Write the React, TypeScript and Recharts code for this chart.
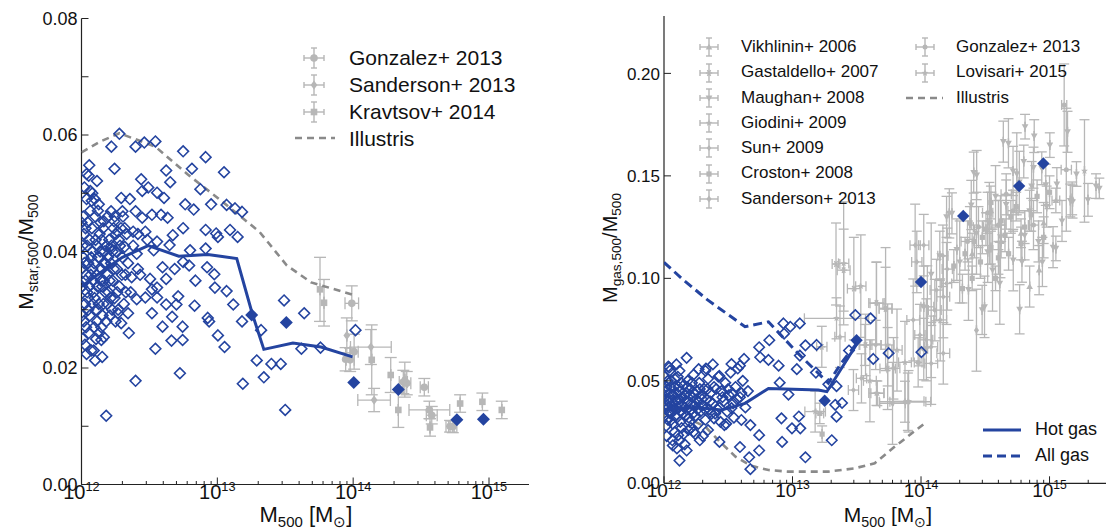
import React from 'react';
import { ScatterChart, Scatter, XAxis, YAxis, ErrorBar } from 'recharts';

const BLUE = '#2444a0';
const GREY = '#b7b7b7';
const DASH = '#8a8a8a';
const FONT = '"Liberation Sans", Arial, Helvetica, sans-serif';

// masses are in units of 1e12 Msun

// ---------- left panel: stellar fraction ----------
const starHalos: [number, number][] = [
  [1.9, 0.0602], [1.66, 0.058], [2.5, 0.058], [2.9, 0.0587], [3.5, 0.0589], [5.6, 0.0572], [8.2, 0.0562],
  [6.5, 0.0542], [11.2, 0.0536], [1.75, 0.0542], [1.14, 0.0548], [1.09, 0.0533], [1.16, 0.0504], [1.3, 0.0521],
  [1.19, 0.0487], [2.75, 0.0524], [4.2, 0.0539], [4.5, 0.0519], [3.1, 0.051], [2.8, 0.0504], [3.6, 0.0501],
  [4.05, 0.0492], [7.5, 0.0507], [1.96, 0.0492], [2.27, 0.049], [5.8, 0.0481], [6.7, 0.0472], [9.0, 0.0481],
  [11.7, 0.048], [13.5, 0.0474], [15.2, 0.0468], [1.65, 0.0469], [2.0, 0.0469], [2.5, 0.0469], [3.3, 0.0463],
  [3.85, 0.0463], [4.3, 0.0458], [2.8, 0.0458], [1.34, 0.0481], [1.46, 0.0452], [1.74, 0.0452], [1.85, 0.0434],
  [2.08, 0.044], [2.4, 0.0434], [2.95, 0.0434], [4.7, 0.0428], [5.6, 0.044], [8.2, 0.0437], [9.8, 0.0431],
  [10.1, 0.0425], [12.4, 0.0437], [14.1, 0.0425], [6.3, 0.0402], [8.2, 0.0405], [4.45, 0.0411], [3.6, 0.0417],
  [3.05, 0.042], [3.4, 0.0402], [2.55, 0.0396], [2.08, 0.0408], [1.65, 0.0405], [3.95, 0.0373], [4.85, 0.037],
  [4.2, 0.0353], [5.6, 0.0382], [6.2, 0.0376], [6.9, 0.035], [8.4, 0.0373], [9.5, 0.0361], [9.6, 0.0338],
  [11.7, 0.0332], [13.1, 0.0309], [3.2, 0.0353], [2.6, 0.037], [2.34, 0.0356], [3.3, 0.0335], [3.6, 0.0338],
  [2.95, 0.0321], [2.55, 0.0318], [3.6, 0.0321], [5.15, 0.0323], [5.0, 0.0309], [4.2, 0.0309], [6.8, 0.0307],
  [3.3, 0.0294], [4.65, 0.0288], [8.5, 0.0286], [8.7, 0.028], [15.2, 0.028], [3.95, 0.0271], [5.55, 0.0271],
  [10.1, 0.0256], [11.3, 0.0236], [3.5, 0.0233], [4.6, 0.0247], [5.55, 0.0248], [2.23, 0.026], [1.96, 0.0277],
  [1.85, 0.0294], [2.2, 0.0294], [1.46, 0.0253], [1.42, 0.0219], [1.26, 0.0213], [1.09, 0.0224], [1.23, 0.023],
  [1.4, 0.0248], [5.3, 0.0191], [2.5, 0.0178], [1.52, 0.0118], [15.4, 0.0173], [19.5, 0.0213], [22, 0.0184],
  [25, 0.0207], [29.3, 0.0207], [31.6, 0.0128], [41.6, 0.0233], [57.5, 0.0235], [43.6, 0.0294], [31, 0.0316],
  [104, 0.0265], [21, 0.0265],
  [1.02, 0.041], [1.05, 0.038], [1.08, 0.036], [1.1, 0.033], [1.12, 0.03], [1.04, 0.028], [1.07, 0.044],
  [1.15, 0.042], [1.18, 0.039], [1.2, 0.037], [1.22, 0.035], [1.25, 0.032], [1.28, 0.03], [1.3, 0.041],
  [1.33, 0.039], [1.36, 0.043], [1.4, 0.037], [1.42, 0.034], [1.45, 0.031], [1.48, 0.04], [1.5, 0.038],
  [1.52, 0.028], [1.55, 0.036], [1.58, 0.033], [1.6, 0.042], [1.62, 0.029], [1.65, 0.038], [1.7, 0.035],
  [1.72, 0.044], [1.75, 0.032], [1.8, 0.04], [1.82, 0.037], [1.88, 0.042], [1.9, 0.034], [1.95, 0.044],
  [2.0, 0.039], [2.05, 0.031], [2.1, 0.036], [2.15, 0.043], [2.2, 0.038], [1.13, 0.026], [1.24, 0.027],
  [1.35, 0.026], [1.06, 0.024], [1.16, 0.047], [1.26, 0.046], [1.38, 0.045], [1.03, 0.046], [1.09, 0.049],
  [1.2, 0.05], [1.32, 0.047], [1.44, 0.044], [1.56, 0.046], [1.68, 0.03], [1.78, 0.028], [1.86, 0.03],
  [1.01, 0.034], [1.11, 0.032], [1.21, 0.031], [1.31, 0.034], [1.46, 0.035], [1.66, 0.041], [1.76, 0.046],
  [2.3, 0.033], [2.4, 0.041], [2.6, 0.043], [2.7, 0.036],
  [1.0, 0.037], [1.01, 0.029], [1.02, 0.025], [1.03, 0.039], [1.04, 0.043], [1.06, 0.031], [1.07, 0.035],
  [1.08, 0.027], [1.1, 0.041], [1.11, 0.045], [1.12, 0.038], [1.14, 0.034], [1.15, 0.029], [1.17, 0.036],
  [1.19, 0.044], [1.21, 0.04], [1.23, 0.033], [1.24, 0.038], [1.27, 0.042], [1.29, 0.036], [1.3, 0.028],
  [1.34, 0.031], [1.37, 0.04], [1.39, 0.035], [1.41, 0.042], [1.43, 0.029], [1.47, 0.038], [1.49, 0.033],
  [1.53, 0.041], [1.57, 0.039], [1.61, 0.035], [1.64, 0.032], [1.69, 0.04], [1.73, 0.037], [1.79, 0.043],
  [1.83, 0.033], [1.92, 0.041], [1.98, 0.036], [2.02, 0.046], [2.12, 0.033], [1.05, 0.051], [1.13, 0.053],
  [1.25, 0.049], [1.0, 0.045], [1.18, 0.023], [1.28, 0.025], [1.4, 0.027], [1.55, 0.031],
];
const starZooms: [number, number][] = [
  [17.9, 0.0291], [32.2, 0.0278], [101, 0.0175], [215, 0.0163], [580, 0.0111], [910, 0.0112],
];
const starMedian: [number, number][] = [
  [1.0, 0.034], [1.5, 0.037], [2.0, 0.039], [3.1, 0.041], [5.2, 0.0392], [8.5, 0.0395], [13.9, 0.0388],
  [18.2, 0.0291], [22, 0.0232], [36, 0.0243], [58, 0.0236], [99, 0.0219],
];
const starIllustris: [number, number][] = [
  [1.0, 0.057], [1.38, 0.0589], [1.9, 0.0603], [3.5, 0.058], [6.0, 0.0533], [10.7, 0.0487], [20.4, 0.0434],
  [32.5, 0.0376], [49, 0.0347], [99, 0.0326],
];
// [mass, fraction, y error, x error in dex]
const starGonzalez: [number, number, number, number][] = [
  [95, 0.0214, 0.002, 0.03], [101.6, 0.0228, 0.003, 0.03], [97.7, 0.0311, 0.003, 0.05], [234, 0.0176, 0.002, 0.03],
  [248, 0.0174, 0.002, 0.03], [334, 0.0167, 0.0015, 0.03], [364, 0.0128, 0.0015, 0.15], [379, 0.0119, 0.0015, 0.04],
  [541, 0.0099, 0.001, 0.03], [517, 0.01, 0.001, 0.03], [88, 0.0215, 0.002, 0],
];
const starSanderson: [number, number, number, number][] = [
  [89.8, 0.0256, 0.003, 0], [135, 0.0236, 0.003, 0.15], [142.6, 0.0145, 0.002, 0.12], [240, 0.018, 0.003, 0],
];
const starKravtsov: [number, number, number, number][] = [
  [57, 0.0335, 0.0055, 0], [61, 0.0312, 0.004, 0], [137, 0.0214, 0.006, 0], [189, 0.0188, 0.003, 0],
  [215, 0.0128, 0.003, 0], [368, 0.0098, 0.0015, 0], [613, 0.0139, 0.0015, 0], [894, 0.0142, 0.0015, 0],
  [1242, 0.0128, 0.0015, 0],
];

// ---------- right panel: gas fraction ----------
const gasHalos: [number, number][] = [
  [1.5, 0.0612], [1.1, 0.0565], [1.32, 0.0549], [1.86, 0.0557], [2.1, 0.0549], [3.35, 0.0582], [3.9, 0.0574],
  [4.2, 0.0607], [2.7, 0.0524], [5.5, 0.0664], [6.6, 0.0698], [5.6, 0.0615], [6.5, 0.0602], [7.8, 0.0574],
  [7.95, 0.0491], [9.3, 0.0433], [8.5, 0.078], [9.6, 0.0764], [11.4, 0.078], [8.6, 0.073], [12.6, 0.0673],
  [11.4, 0.0623], [10.8, 0.0557], [15.2, 0.054], [19, 0.0483], [21.5, 0.0383], [24.3, 0.0392], [20.2, 0.021],
  [12.6, 0.0127], [8.2, 0.0317], [9.9, 0.0268], [11.5, 0.0268], [11.2, 0.0326], [8.3, 0.0202], [5.5, 0.0235],
  [5.5, 0.016], [4.7, 0.0069], [4.6, 0.0127], [3.9, 0.0177], [4.7, 0.0284], [4.0, 0.0309], [3.35, 0.0367],
  [2.95, 0.0284], [2.45, 0.0317], [1.9, 0.021], [2.7, 0.0202], [1.5, 0.016], [1.32, 0.0111], [1.17, 0.0185],
  [1.29, 0.0235], [1.7, 0.0251], [2.2, 0.026], [30.8, 0.0821], [40.5, 0.0805], [42.5, 0.0607], [56, 0.0635],
  [100.7, 0.064], [27.5, 0.0648], [22, 0.0474], [22, 0.0325], [15.4, 0.0675],
  [1.02, 0.042], [1.04, 0.036], [1.05, 0.047], [1.07, 0.031], [1.08, 0.04], [1.1, 0.044], [1.12, 0.034],
  [1.13, 0.05], [1.15, 0.038], [1.17, 0.029], [1.18, 0.043], [1.2, 0.047], [1.22, 0.036], [1.24, 0.041],
  [1.26, 0.032], [1.28, 0.052], [1.3, 0.039], [1.33, 0.045], [1.35, 0.035], [1.37, 0.027], [1.4, 0.042],
  [1.43, 0.048], [1.45, 0.037], [1.48, 0.033], [1.5, 0.044], [1.53, 0.05], [1.55, 0.04], [1.58, 0.03],
  [1.6, 0.046], [1.63, 0.036], [1.66, 0.042], [1.7, 0.053], [1.73, 0.038], [1.76, 0.033], [1.8, 0.045],
  [1.84, 0.04], [1.88, 0.049], [1.92, 0.035], [1.96, 0.043], [2.0, 0.038], [2.05, 0.046], [2.1, 0.031],
  [2.15, 0.041], [2.2, 0.051], [2.25, 0.036], [2.3, 0.044], [2.38, 0.039], [2.45, 0.047], [2.5, 0.034],
  [2.58, 0.042], [2.65, 0.052], [2.72, 0.037], [2.8, 0.045], [2.9, 0.04], [3.0, 0.049], [3.1, 0.035],
  [3.2, 0.043], [3.3, 0.054], [3.45, 0.039], [3.6, 0.047], [3.75, 0.056], [3.9, 0.042], [4.1, 0.05],
  [4.3, 0.037], [4.5, 0.045], [1.01, 0.052], [1.11, 0.055], [1.21, 0.025], [1.32, 0.021], [1.42, 0.024],
  [1.62, 0.027], [1.85, 0.029], [2.12, 0.056], [2.4, 0.058], [2.75, 0.03], [3.05, 0.029], [3.5, 0.032],
  [1.0, 0.04], [1.01, 0.033], [1.03, 0.045], [1.04, 0.028], [1.06, 0.038], [1.07, 0.05], [1.09, 0.035],
  [1.1, 0.041], [1.12, 0.047], [1.14, 0.031], [1.15, 0.043], [1.17, 0.036], [1.19, 0.039], [1.21, 0.051],
  [1.23, 0.033], [1.25, 0.044], [1.27, 0.037], [1.3, 0.047], [1.32, 0.041], [1.34, 0.03], [1.36, 0.049],
  [1.39, 0.038], [1.41, 0.034], [1.44, 0.043], [1.47, 0.04], [1.5, 0.036], [1.52, 0.047], [1.56, 0.032],
  [1.59, 0.043], [1.62, 0.039], [1.65, 0.049], [1.68, 0.034], [1.72, 0.044], [1.78, 0.041], [1.82, 0.036],
  [1.9, 0.046], [1.98, 0.041], [2.08, 0.036], [2.18, 0.046], [2.28, 0.04], [2.35, 0.034], [2.55, 0.046],
  [2.62, 0.036], [2.85, 0.042], [3.15, 0.046], [3.4, 0.044], [3.7, 0.041], [4.0, 0.044], [1.05, 0.023],
  [1.16, 0.021], [1.26, 0.017], [1.45, 0.019], [1.55, 0.026], [1.75, 0.024], [2.0, 0.023], [1.08, 0.057],
  [1.25, 0.058],
];
const gasZooms: [number, number][] = [
  [17.8, 0.0403], [31.5, 0.0698], [100, 0.0982], [213, 0.1304], [580, 0.145], [895, 0.156],
];
const hotGas: [number, number][] = [
  [1.0, 0.036], [1.8, 0.037], [2.8, 0.0358], [4.27, 0.039], [6.5, 0.0463], [15.9, 0.0455], [18.5, 0.0447],
  [33, 0.0698],
];
const allGas: [number, number][] = [
  [1.0, 0.1078], [1.4, 0.0995], [2.17, 0.0896], [4.27, 0.0764], [6.5, 0.0788], [11, 0.0635], [15.8, 0.0538],
  [19, 0.0489], [24, 0.0587], [33, 0.0698],
];
const gasIllustris: [number, number][] = [
  [1.75, 0.03], [2.1, 0.0276], [2.65, 0.021], [3.6, 0.013], [4.8, 0.0085], [6.5, 0.0065], [9.2, 0.0057],
  [18.9, 0.0057], [30, 0.0072], [43.6, 0.0098], [62.5, 0.0179], [107, 0.0293],
];
const gasVikhlinin: [number, number, number, number][] = [
  [1120, 0.138, 0.006, 0.03], [830, 0.104, 0.012, 0], [700, 0.096, 0.01, 0], [420, 0.118, 0.008, 0],
  [600, 0.122, 0.007, 0], [350, 0.133, 0.009, 0], [900, 0.127, 0.01, 0], [1500, 0.139, 0.008, 0],
  [250, 0.112, 0.01, 0],
];
const gasGastaldello: [number, number, number, number][] = [
  [25, 0.104, 0.02, 0.05], [30, 0.095, 0.025, 0.05], [45, 0.088, 0.02, 0.06], [53, 0.085, 0.03, 0.05],
  [37, 0.0675, 0.015, 0.05], [16.9, 0.0666, 0.01, 0.04], [21.8, 0.107, 0.02, 0.03], [55, 0.056, 0.02, 0.06],
];
const gasMaughan: [number, number, number, number][] = [
  [645, 0.174, 0.006, 0], [760, 0.1694, 0.008, 0], [437, 0.1667, 0.01, 0], [479, 0.1659, 0.012, 0],
  [1380, 0.1715, 0.01, 0], [1005, 0.165, 0.006, 0], [630, 0.157, 0.008, 0], [750, 0.154, 0.01, 0],
  [870, 0.1537, 0.008, 0], [271, 0.1504, 0.012, 0], [1620, 0.1509, 0.006, 0], [2440, 0.1439, 0.005, 0],
  [1140, 0.146, 0.008, 0], [935, 0.1456, 0.01, 0], [725, 0.145, 0.012, 0], [556, 0.151, 0.02, 0],
  [582, 0.147, 0.015, 0], [1510, 0.1374, 0.008, 0], [174, 0.1317, 0.01, 0], [246, 0.1358, 0.012, 0],
  [340, 0.1268, 0.02, 0], [415, 0.1203, 0.02, 0], [522, 0.1089, 0.015, 0], [610, 0.1081, 0.01, 0],
  [1120, 0.1146, 0.006, 0], [410, 0.0976, 0.02, 0], [312, 0.0861, 0.015, 0], [585, 0.0849, 0.012, 0],
  [200, 0.108, 0.02, 0], [158, 0.13, 0.01, 0], [299, 0.0846, 0.012, 0], [234, 0.0945, 0.015, 0],
  [166, 0.1317, 0.012, 0], [257, 0.1516, 0.01, 0], [520, 0.1524, 0.012, 0], [2300, 0.145, 0.006, 0],
  [1065, 0.1152, 0.01, 0], [1990, 0.1383, 0.008, 0], [1450, 0.138, 0.008, 0], [380, 0.14, 0.015, 0],
  [460, 0.136, 0.012, 0], [330, 0.113, 0.015, 0], [700, 0.133, 0.01, 0], [820, 0.118, 0.01, 0],
  [950, 0.135, 0.01, 0], [270, 0.122, 0.02, 0], [190, 0.114, 0.015, 0], [360, 0.104, 0.02, 0],
  [640, 0.121, 0.012, 0], [880, 0.108, 0.012, 0], [140, 0.111, 0.012, 0], [1250, 0.128, 0.01, 0],
  [105, 0.086, 0.02, 0], [120, 0.102, 0.025, 0],
];
const gasGiodini: [number, number, number, number][] = [
  [22, 0.0805, 0.01, 0.25], [45.7, 0.0439, 0.006, 0.05], [79, 0.0398, 0.014, 0.14], [15, 0.035, 0.01, 0.08],
];
const gasSun: [number, number, number, number][] = [
  [23.4, 0.0715, 0.015, 0.04], [44.4, 0.0675, 0.012, 0.04], [36.6, 0.0675, 0.01, 0.04], [34.4, 0.0512, 0.012, 0.04],
  [29.8, 0.0455, 0.01, 0.04], [87, 0.0797, 0.02, 0.05], [90, 0.1162, 0.02, 0.04], [92.7, 0.108, 0.015, 0.04],
  [105, 0.1162, 0.015, 0.04], [98, 0.0723, 0.015, 0.04], [110, 0.07, 0.02, 0.05], [112, 0.0861, 0.02, 0.05],
  [128, 0.0845, 0.015, 0.05], [132, 0.0943, 0.015, 0.05], [149, 0.091, 0.02, 0.05], [158, 0.0975, 0.02, 0.04],
  [141, 0.0797, 0.02, 0.05], [120, 0.0666, 0.015, 0.05], [149, 0.0634, 0.015, 0.05], [120, 0.0585, 0.02, 0.05],
  [160, 0.1045, 0.02, 0.04], [148, 0.111, 0.015, 0.04],
];
const gasCroston: [number, number, number, number][] = [
  [16.3, 0.0341, 0.005, 0.03], [17, 0.024, 0.004, 0], [300, 0.12, 0.008, 0], [350, 0.115, 0.008, 0],
  [420, 0.128, 0.01, 0], [250, 0.1, 0.006, 0], [550, 0.135, 0.007, 0], [480, 0.112, 0.008, 0],
  [210, 0.095, 0.007, 0], [380, 0.1, 0.006, 0], [640, 0.125, 0.008, 0], [180, 0.106, 0.008, 0],
  [220, 0.112, 0.008, 0], [260, 0.118, 0.008, 0], [320, 0.124, 0.008, 0], [290, 0.108, 0.008, 0],
  [450, 0.121, 0.008, 0], [500, 0.13, 0.008, 0], [600, 0.117, 0.008, 0], [720, 0.131, 0.008, 0],
  [350, 0.137, 0.008, 0], [240, 0.127, 0.008, 0], [400, 0.11, 0.008, 0], [800, 0.14, 0.008, 0],
  [900, 0.12, 0.01, 0], [1000, 0.142, 0.008, 0],
];
const gasSanderson: [number, number, number, number][] = [
  [53, 0.0854, 0.02, 0.05], [61, 0.0561, 0.015, 0.05], [60, 0.039, 0.02, 0.1], [270, 0.0747, 0.02, 0],
  [45, 0.0878, 0.02, 0.05], [75, 0.0398, 0.01, 0.2],
];
const gasGonzalez: [number, number, number, number][] = [
  [105, 0.0655, 0.015, 0.03], [95, 0.059, 0.012, 0.03], [230, 0.118, 0.01, 0.05], [280, 0.125, 0.01, 0.04],
  [330, 0.132, 0.01, 0.04], [400, 0.126, 0.012, 0.05], [460, 0.141, 0.01, 0.04], [520, 0.133, 0.01, 0.04],
  [750, 0.126, 0.012, 0.04], [1350, 0.153, 0.03, 0.04], [1300, 0.1846, 0.02, 0.02],
];
const gasLovisari: [number, number, number, number][] = [
  [45, 0.044, 0.006, 0.06], [80, 0.04, 0.015, 0.12], [25, 0.1073, 0.03, 0.04], [34, 0.0962, 0.025, 0.04],
  [55, 0.0675, 0.02, 0.05], [40, 0.05, 0.02, 0.05], [1870, 0.1524, 0.025, 0], [65, 0.065, 0.02, 0.04],
  [75, 0.059, 0.02, 0.05],
];

const massTicksLeft = [1, 2, 3, 4, 5, 6, 7, 8, 9, 10, 20, 30, 40, 50, 60, 70, 80, 90, 100, 200, 300, 400, 500, 600, 700, 800, 900, 1000];
const massTicksRight = [...massTicksLeft, 2000];
const starTicks = [0, 0.01, 0.02, 0.03, 0.04, 0.05, 0.06, 0.07, 0.08];
const gasTicks = [0, 0.05, 0.1, 0.15, 0.2];

const pts = (a: [number, number][]) => a.map(([m, f]) => ({ m, f }));
const obs = (a: [number, number, number, number][]) =>
  a.map(([m, f, ey, xd]) => ({ m, f, ey, ex: [m - m / 10 ** xd, m * 10 ** xd - m] }));

function Mark({ kind, cx, cy, s, color }: any) {
  switch (kind) {
    case 'circle':
      return <circle cx={cx} cy={cy} r={s} fill={color} />;
    case 'square':
      return <rect x={cx - s} y={cy - s} width={2 * s} height={2 * s} fill={color} />;
    case 'diamond':
      return <polygon points={`${cx},${cy - s * 1.35} ${cx + s},${cy} ${cx},${cy + s * 1.35} ${cx - s},${cy}`} fill={color} />;
    case 'up':
      return <polygon points={`${cx},${cy - s} ${cx + s},${cy + s * 0.75} ${cx - s},${cy + s * 0.75}`} fill={color} />;
    case 'down':
      return <polygon points={`${cx},${cy + s} ${cx + s},${cy - s * 0.75} ${cx - s},${cy - s * 0.75}`} fill={color} />;
    case 'star': {
      const p: string[] = [];
      for (let i = 0; i < 10; i++) {
        const r = i % 2 === 0 ? s * 1.3 : s * 0.55;
        const a = -Math.PI / 2 + (i * Math.PI) / 5;
        p.push(`${cx + r * Math.cos(a)},${cy + r * Math.sin(a)}`);
      }
      return <polygon points={p.join(' ')} fill={color} />;
    }
    case 'ast':
      return (
        <g stroke={color} strokeWidth={1.4}>
          <line x1={cx - s} x2={cx + s} y1={cy} y2={cy} />
          <line x1={cx - s * 0.5} x2={cx + s * 0.5} y1={cy - s * 0.87} y2={cy + s * 0.87} />
          <line x1={cx - s * 0.5} x2={cx + s * 0.5} y1={cy + s * 0.87} y2={cy - s * 0.87} />
        </g>
      );
    case 'open':
      return (
        <polygon
          points={`${cx},${cy - s} ${cx + s},${cy} ${cx},${cy + s} ${cx - s},${cy}`}
          fill="none"
          stroke={color}
          strokeWidth={1.6}
        />
      );
    case 'filled':
      return <polygon points={`${cx},${cy - s} ${cx + s},${cy} ${cx},${cy + s} ${cx - s},${cy}`} fill={color} />;
    default:
      return <g />;
  }
}

const shapeOf = (kind: string, s: number, color: string) => (p: any) => (
  <Mark kind={kind} cx={p.cx} cy={p.cy} s={s} color={color} />
);
const noShape = () => <g />;

function XTick({ x, y, payload, top, fs }: any) {
  const lg = Math.log10(payload.value);
  const major = Math.abs(lg - Math.round(lg)) < 1e-6;
  const len = major ? 7 : 3.5;
  const d = top ? 1 : -1;
  return (
    <g>
      <line x1={x} x2={x} y1={y} y2={y + d * len} stroke="#222" strokeWidth={1} />
      {!top && major && (
        <text x={x} y={y + fs * 0.72} textAnchor="middle" fontSize={fs} fontFamily={FONT} fill="#111">
          10
          <tspan dy={-fs * 0.42} fontSize={fs * 0.64}>
            {12 + Math.round(lg)}
          </tspan>
        </text>
      )}
    </g>
  );
}

function YTick({ x, y, payload, right, fs, show }: any) {
  const v = payload.value;
  const d = right ? -1 : 1;
  return (
    <g>
      <line x1={x} x2={x + d * 7} y1={y} y2={y} stroke="#222" strokeWidth={1} />
      {!right && show(v) && (
        <text x={x - 4} y={y} dy="0.36em" textAnchor="end" fontSize={fs} fontFamily={FONT} fill="#111">
          {v.toFixed(2)}
        </text>
      )}
    </g>
  );
}

function Sub({ children }: any) {
  return <span style={{ fontSize: '0.68em', position: 'relative', top: '0.32em' }}>{children}</span>;
}

function ErrMark({ x, y, kind, s, w }: any) {
  return (
    <svg style={{ position: 'absolute', left: x - 14, top: y - 14 }} width={28} height={28}>
      <g stroke={GREY} strokeWidth={1.4}>
        <line x1={14 - w} x2={14 + w} y1={14} y2={14} />
        <line x1={14} x2={14} y1={14 - w} y2={14 + w} />
        <line x1={14 - 3} x2={14 + 3} y1={14 - w} y2={14 - w} />
        <line x1={14 - 3} x2={14 + 3} y1={14 + w} y2={14 + w} />
        <line x1={14 - w} x2={14 - w} y1={11} y2={17} />
        <line x1={14 + w} x2={14 + w} y1={11} y2={17} />
      </g>
      <Mark kind={kind} cx={14} cy={14} s={s} color={GREY} />
    </svg>
  );
}

function LineMark({ x1, x2, y, color, dash, w }: any) {
  return (
    <svg style={{ position: 'absolute', left: x1, top: y - 4 }} width={x2 - x1} height={8}>
      <line x1={0} x2={x2 - x1} y1={4} y2={4} stroke={color} strokeWidth={w} strokeDasharray={dash} />
    </svg>
  );
}

function Label({ x, y, fs, children }: any) {
  return (
    <div style={{ position: 'absolute', left: x, top: y - fs * 0.6, fontSize: fs, lineHeight: `${fs * 1.2}px`, whiteSpace: 'nowrap' }}>
      {children}
    </div>
  );
}

function axes(domainX: number[], ticksX: number[], domainY: number[], ticksY: number[], fs: number, xfs: number, show: any, yw: number, xh: number) {
  return [
    <XAxis
      key="xb"
      dataKey="m"
      type="number"
      scale="log"
      domain={domainX}
      allowDataOverflow
      ticks={ticksX}
      interval={0}
      height={xh}
      tickSize={0}
      tickMargin={0}
      tickLine={false}
      axisLine={{ stroke: '#222', strokeWidth: 1.2 }}
      tick={(p: any) => <XTick {...p} fs={xfs} />}
    />,
    <XAxis
      key="xt"
      xAxisId="top"
      orientation="top"
      dataKey="m"
      type="number"
      scale="log"
      domain={domainX}
      allowDataOverflow
      ticks={ticksX}
      interval={0}
      height={0}
      tickSize={0}
      tickMargin={0}
      tickLine={false}
      axisLine={{ stroke: '#222', strokeWidth: 1.2 }}
      tick={(p: any) => <XTick {...p} top fs={xfs} />}
    />,
    <YAxis
      key="yl"
      dataKey="f"
      type="number"
      domain={domainY}
      allowDataOverflow
      ticks={ticksY}
      interval={0}
      width={yw}
      tickSize={0}
      tickMargin={0}
      tickLine={false}
      axisLine={{ stroke: '#222', strokeWidth: 1.2 }}
      tick={(p: any) => <YTick {...p} fs={fs} show={show} />}
    />,
    <YAxis
      key="yr"
      yAxisId="right"
      orientation="right"
      dataKey="f"
      type="number"
      domain={domainY}
      allowDataOverflow
      ticks={ticksY}
      interval={0}
      width={0}
      tickSize={0}
      tickMargin={0}
      tickLine={false}
      axisLine={{ stroke: '#222', strokeWidth: 1.2 }}
      tick={(p: any) => <YTick {...p} right fs={fs} show={show} />}
    />,
  ];
}

function obsSeries(name: string, data: any[], kind: string, s: number, cap: number) {
  return (
    <Scatter key={name} name={name} data={data} shape={shapeOf(kind, s, GREY)} isAnimationActive={false}>
      <ErrorBar dataKey="ey" direction="y" width={cap} stroke={GREY} strokeWidth={1.3} isAnimationActive={false} />
      <ErrorBar dataKey="ex" direction="x" width={cap} stroke={GREY} strokeWidth={1.3} isAnimationActive={false} />
    </Scatter>
  );
}

function lineSeries(name: string, data: any[], color: string, w: number, dash?: string) {
  return (
    <Scatter
      key={name}
      name={name}
      data={data}
      line={{ stroke: color, strokeWidth: w, strokeDasharray: dash }}
      lineType="joint"
      shape={noShape}
      isAnimationActive={false}
    />
  );
}

export default function App() {
  const fsL = 18;
  const fsR = 17;
  return (
    <div style={{ position: 'absolute', left: 0, top: 0, width: 1108, height: 529, background: '#fff', fontFamily: FONT, color: '#111', overflow: 'hidden' }}>
      {/* left panel */}
      <div style={{ position: 'absolute', left: 0, top: 0 }}>
        <ScatterChart width={560} height={529} margin={{ top: 18.5, right: 31, bottom: 0, left: 0 }}>
          {axes([1, 1970], massTicksLeft, [0, 0.08], starTicks, fsL, 20, (v: number) => Math.round(v * 100) % 2 === 0, 81.5, 44.5)}
          {obsSeries('Gonzalez+ 2013', obs(starGonzalez), 'circle', 3.8, 6)}
          {obsSeries('Sanderson+ 2013', obs(starSanderson), 'diamond', 3.4, 6)}
          {obsSeries('Kravtsov+ 2014', obs(starKravtsov), 'square', 3.3, 6)}
          {lineSeries('Illustris', pts(starIllustris), DASH, 2.6, '7 5')}
          <Scatter name="halos" data={pts(starHalos)} shape={shapeOf('open', 5.4, BLUE)} isAnimationActive={false} />
          {lineSeries('median', pts(starMedian), BLUE, 3)}
          <Scatter name="zooms" data={pts(starZooms)} shape={shapeOf('filled', 6.5, BLUE)} isAnimationActive={false} />
        </ScatterChart>
      </div>

      {/* right panel */}
      <div style={{ position: 'absolute', left: 560, top: 0 }}>
        <ScatterChart width={548} height={529} margin={{ top: 16, right: 2, bottom: 0, left: 0 }}>
          {axes([1, 2750], massTicksRight, [0, 0.228], gasTicks, fsR, 19, () => true, 104, 45.7)}
          {obsSeries('Vikhlinin+ 2006', obs(gasVikhlinin), 'up', 3.3, 5)}
          {obsSeries('Gastaldello+ 2007', obs(gasGastaldello), 'ast', 3.2, 5)}
          {obsSeries('Maughan+ 2008', obs(gasMaughan), 'down', 3.4, 5)}
          {obsSeries('Giodini+ 2009', obs(gasGiodini), 'star', 2.8, 5)}
          {obsSeries('Sun+ 2009', obs(gasSun), 'diamond', 2.3, 5)}
          {obsSeries('Croston+ 2008', obs(gasCroston), 'square', 2.6, 5)}
          {obsSeries('Sanderson+ 2013', obs(gasSanderson), 'diamond', 2.6, 5)}
          {obsSeries('Gonzalez+ 2013', obs(gasGonzalez), 'circle', 2.5, 5)}
          {obsSeries('Lovisari+ 2015', obs(gasLovisari), 'star', 2.8, 5)}
          {lineSeries('Illustris', pts(gasIllustris), DASH, 2.6, '7 5')}
          <Scatter name="halos" data={pts(gasHalos)} shape={shapeOf('open', 5.2, BLUE)} isAnimationActive={false} />
          {lineSeries('Hot gas', pts(hotGas), BLUE, 3)}
          {lineSeries('All gas', pts(allGas), BLUE, 3, '9 5')}
          <Scatter name="zooms" data={pts(gasZooms)} shape={shapeOf('filled', 6.2, BLUE)} isAnimationActive={false} />
        </ScatterChart>
      </div>

      {/* axis titles */}
      <div style={{ position: 'absolute', left: 26, top: 252, transform: 'translate(-50%, -50%) rotate(-90deg)', fontSize: 21, whiteSpace: 'nowrap' }}>
        M<Sub>star,500</Sub>/M<Sub>500</Sub>
      </div>
      <div style={{ position: 'absolute', left: 306, top: 515, transform: 'translate(-50%, -50%)', fontSize: 22, whiteSpace: 'nowrap' }}>
        M<Sub>500</Sub> [M<Sub>{'\u2299'}</Sub>]
      </div>
      <div style={{ position: 'absolute', left: 610, top: 248, transform: 'translate(-50%, -50%) rotate(-90deg)', fontSize: 20, whiteSpace: 'nowrap' }}>
        M<Sub>gas,500</Sub>/M<Sub>500</Sub>
      </div>
      <div style={{ position: 'absolute', left: 888, top: 515, transform: 'translate(-50%, -50%)', fontSize: 21, whiteSpace: 'nowrap' }}>
        M<Sub>500</Sub> [M<Sub>{'\u2299'}</Sub>]
      </div>

      {/* left legend */}
      <ErrMark x={314} y={57.5} kind="circle" s={3.8} w={10} />
      <Label x={349} y={57.5} fs={21}>Gonzalez+ 2013</Label>
      <ErrMark x={314} y={85} kind="diamond" s={3.4} w={10} />
      <Label x={349} y={85} fs={21}>Sanderson+ 2013</Label>
      <ErrMark x={314} y={112} kind="square" s={3.3} w={10} />
      <Label x={349} y={112} fs={21}>Kravtsov+ 2014</Label>
      <LineMark x1={295} x2={335} y={138.3} color={DASH} dash="7 5" w={2.6} />
      <Label x={349} y={138.3} fs={21}>Illustris</Label>

      {/* right legend */}
      <ErrMark x={709} y={47.2} kind="up" s={3.3} w={9} />
      <Label x={741} y={47.2} fs={fsR}>Vikhlinin+ 2006</Label>
      <ErrMark x={709} y={72.6} kind="ast" s={3.2} w={9} />
      <Label x={741} y={72.6} fs={fsR}>Gastaldello+ 2007</Label>
      <ErrMark x={709} y={98} kind="down" s={3.4} w={9} />
      <Label x={741} y={98} fs={fsR}>Maughan+ 2008</Label>
      <ErrMark x={709} y={123.4} kind="star" s={2.8} w={9} />
      <Label x={741} y={123.4} fs={fsR}>Giodini+ 2009</Label>
      <ErrMark x={709} y={148.2} kind="diamond" s={2.3} w={9} />
      <Label x={741} y={148.2} fs={fsR}>Sun+ 2009</Label>
      <ErrMark x={709} y={173.6} kind="square" s={2.6} w={9} />
      <Label x={741} y={173.6} fs={fsR}>Croston+ 2008</Label>
      <ErrMark x={709} y={198.7} kind="diamond" s={2.6} w={9} />
      <Label x={741} y={198.7} fs={fsR}>Sanderson+ 2013</Label>
      <ErrMark x={924.5} y={47.2} kind="circle" s={2.5} w={9} />
      <Label x={956} y={47.2} fs={fsR}>Gonzalez+ 2013</Label>
      <ErrMark x={924.5} y={72.6} kind="star" s={2.8} w={9} />
      <Label x={956} y={72.6} fs={fsR}>Lovisari+ 2015</Label>
      <LineMark x1={906} x2={943} y={98} color={DASH} dash="7 5" w={2.6} />
      <Label x={956} y={98} fs={fsR}>Illustris</Label>

      <LineMark x1={983} x2={1021} y={430} color={BLUE} w={3} />
      <Label x={1035} y={430} fs={18}>Hot gas</Label>
      <LineMark x1={983} x2={1021} y={456} color={BLUE} dash="9 5" w={3} />
      <Label x={1035} y={456} fs={18}>All gas</Label>
    </div>
  );
}
